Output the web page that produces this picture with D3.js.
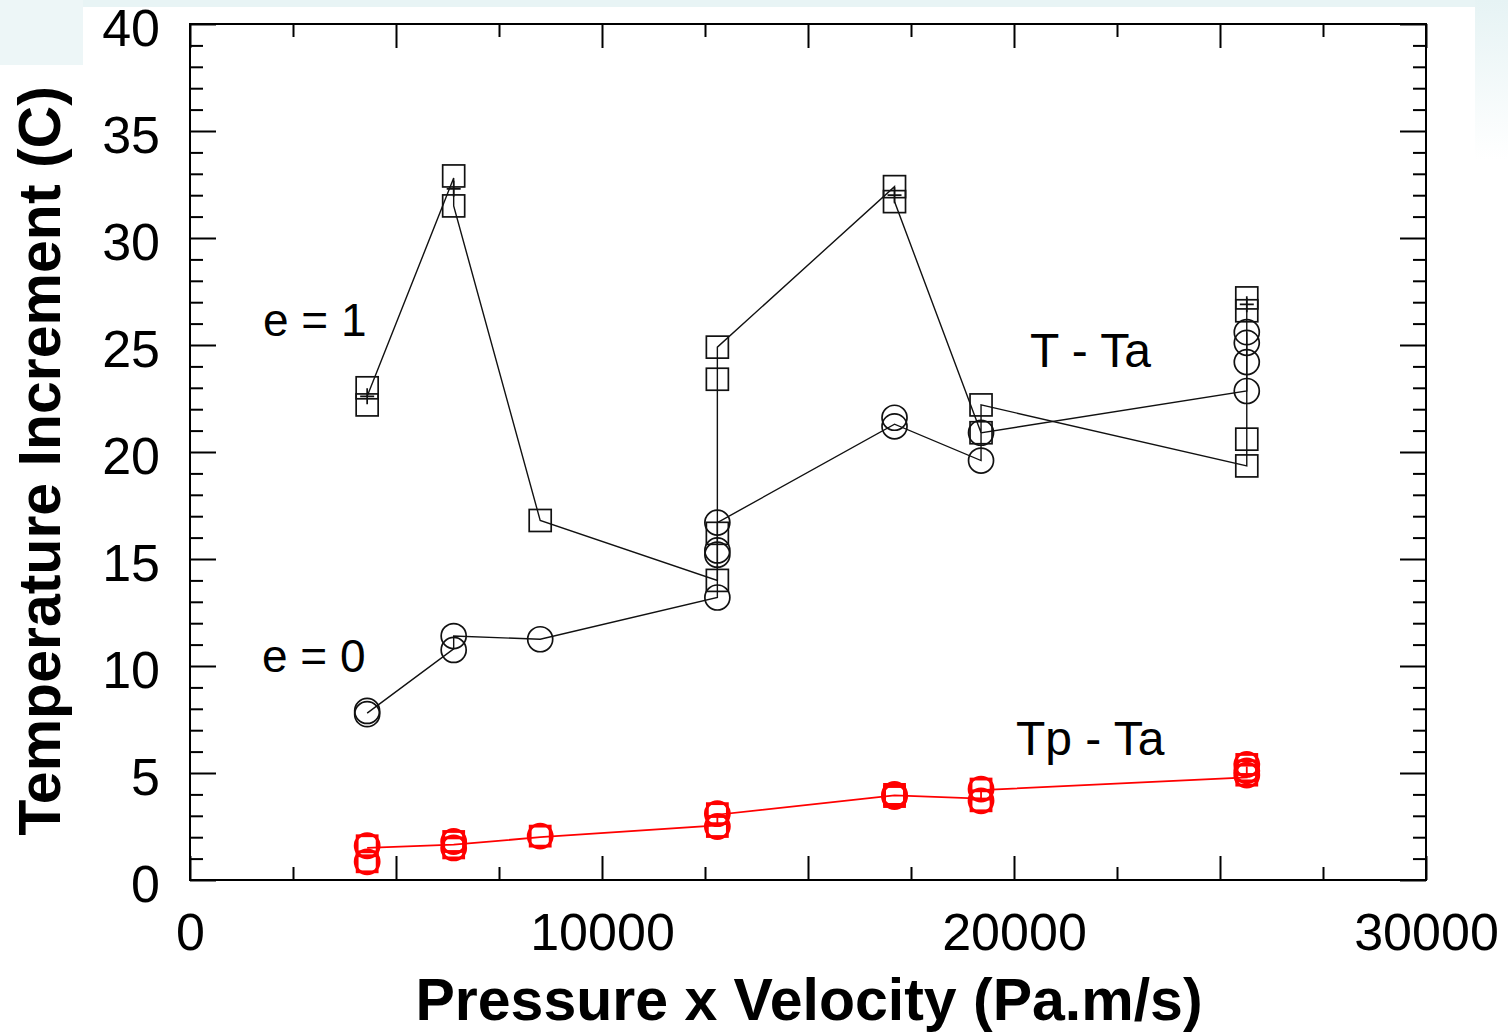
<!DOCTYPE html>
<html><head><meta charset="utf-8">
<script src="https://cdn.jsdelivr.net/npm/d3@7"></script>
<style>html,body{margin:0;padding:0;background:#fff;overflow:hidden}svg{display:block}</style>
</head><body>
<svg id="c" width="1508" height="1032"></svg>
<script>
// ---------- data ----------
const xLabels = [0, 10000, 20000, 30000];
const yLabels = [0, 5, 10, 15, 20, 25, 30, 35, 40];
const xMajorTicks = [0, 5000, 10000, 15000, 20000, 25000, 30000];
const xMinorTicks = [2500, 7500, 12500, 17500, 22500, 27500];
const yMajorTicks = [0, 5, 10, 15, 20, 25, 30, 35, 40];
const yMinorTicks = d3.range(0, 41).filter(v => v % 5 !== 0);

// e = 1 (squares), T - Ta
const e1Squares = [[4300,23.0],[4300,22.2],[6400,32.9],[6400,31.5],[8500,16.8],
  [12800,24.9],[12800,23.4],[12800,16.2],[12800,14.0],[17100,32.4],[17100,31.7],
  [19200,22.2],[19200,20.9],[25650,27.2],[25650,26.6],[25650,20.6],[25650,19.35]];
const e1Line = [[4300,22.6],[6400,32.8],[6400,31.5],[8500,16.8],[12800,14.0],[12800,24.9],
  [17100,32.4],[17100,31.7],[19200,20.9],[19200,22.2],[25650,19.35],[25650,27.2]];
const e1Plus = [[4300,22.6],[6400,32.3],[17100,32.0],[25650,26.9]];

// e = 0 (circles), T - Ta
const e0Circles = [[4300,7.9],[4300,7.75],[6400,11.4],[6400,10.75],[8500,11.25],
  [12800,16.7],[12800,15.4],[12800,15.2],[12800,13.2],[17100,21.6],[17100,21.2],
  [19200,20.9],[19200,19.6],[25650,25.6],[25650,25.1],[25650,24.2],[25650,22.85]];
const e0Line = [[4300,7.8],[6400,10.8],[6400,11.4],[8500,11.25],[12800,13.2],[12800,16.7],
  [17100,21.3],[19200,19.6],[19200,20.9],[25650,22.85],[25650,25.6]];

// Tp - Ta (red, squares + circles)
const tpPoints = [[4300,1.6],[4300,0.85],[6400,1.8],[6400,1.5],[8500,2.05],
  [12800,3.1],[12800,2.5],[17100,4.0],[17100,3.9],[19200,4.25],[19200,3.7],
  [25650,5.4],[25650,5.1],[25650,4.9]];
const tpLine = [[4300,1.5],[6400,1.65],[8500,2.0],[12800,2.55],[12800,3.05],
  [17100,3.95],[19200,3.8],[19200,4.2],[25650,4.8],[25650,5.3]];

const annotations = [
  {text: "e = 1", x: 263, y: 336, size: 46},
  {text: "e = 0", x: 262, y: 672, size: 46},
  {text: "T - Ta", x: 1030, y: 367, size: 48},
  {text: "Tp - Ta", x: 1016, y: 755, size: 48}
];

// ---------- drawing ----------
const svg = d3.select("#c");
const FONT = "'Liberation Sans', Arial, Helvetica, sans-serif";
const L = 190, R = 1426, T = 24, B = 880;
const x = d3.scaleLinear().domain([0, 30000]).range([L, R]);
const y = d3.scaleLinear().domain([0, 40]).range([B, T]);

// background (slide screenshot look)
const defs = svg.append("defs");
const g1 = defs.append("linearGradient").attr("id","gr").attr("x1",0).attr("y1",0).attr("x2",0).attr("y2",1);
g1.append("stop").attr("offset","0%").attr("stop-color","#e6f3f4");
g1.append("stop").attr("offset","100%").attr("stop-color","#ffffff");
svg.append("rect").attr("x",0).attr("y",0).attr("width",1508).attr("height",1032).attr("fill","#fff");
svg.append("rect").attr("x",0).attr("y",0).attr("width",1508).attr("height",7).attr("fill","#e8f4f5");
svg.append("rect").attr("x",0).attr("y",0).attr("width",83).attr("height",65).attr("fill","#edf6f7");
svg.append("rect").attr("x",1475).attr("y",0).attr("width",33).attr("height",160).attr("fill","url(#gr)");

// axes
function tickAxis(axisFn, scale, vals, size, tr) {
  svg.append("g").attr("transform", tr)
    .call(axisFn(scale).tickValues(vals).tickSize(size).tickFormat(""))
    .call(g => { g.select(".domain").remove(); g.selectAll("line").attr("stroke","#000").attr("stroke-width",2); });
}
tickAxis(d3.axisBottom, x, xMajorTicks, -24, `translate(0,${B})`);
tickAxis(d3.axisBottom, x, xMinorTicks, -13, `translate(0,${B})`);
tickAxis(d3.axisTop, x, xMajorTicks, -24, `translate(0,${T})`);
tickAxis(d3.axisTop, x, xMinorTicks, -13, `translate(0,${T})`);
tickAxis(d3.axisLeft, y, yMajorTicks, -26, `translate(${L},0)`);
tickAxis(d3.axisLeft, y, yMinorTicks, -13, `translate(${L},0)`);
tickAxis(d3.axisRight, y, yMajorTicks, -26, `translate(${R},0)`);
tickAxis(d3.axisRight, y, yMinorTicks, -13, `translate(${R},0)`);

svg.append("rect").attr("x",L).attr("y",T).attr("width",R-L).attr("height",B-T)
  .attr("fill","none").attr("stroke","#000").attr("stroke-width",2);

// tick labels
svg.append("g").attr("transform",`translate(0,${B})`)
  .call(d3.axisBottom(x).tickValues(xLabels).tickSize(0).tickPadding(0).tickFormat(d3.format("d")))
  .call(g => { g.select(".domain").remove();
    g.selectAll("text").attr("dy",null).attr("y",70).attr("font-family",FONT).attr("font-size",52).attr("fill","#000"); });
svg.append("g").attr("transform",`translate(${L},0)`)
  .call(d3.axisLeft(y).tickValues(yLabels).tickSize(0).tickPadding(0).tickFormat(d3.format("d")))
  .call(g => { g.select(".domain").remove();
    g.selectAll("text").attr("x",-30).attr("dy","0.42em").attr("font-family",FONT).attr("font-size",52).attr("fill","#000"); });

// axis titles
svg.append("text").attr("x",809).attr("y",1020).attr("text-anchor","middle")
  .attr("font-family",FONT).attr("font-weight","bold").attr("font-size",59).text("Pressure x Velocity (Pa.m/s)");
svg.append("text").attr("transform","translate(60,461) rotate(-90)").attr("text-anchor","middle")
  .attr("font-family",FONT).attr("font-weight","bold").attr("font-size",59).text("Temperature Increment (C)");

// lines
const line = d3.line().x(d => x(d[0])).y(d => y(d[1]));
const plot = svg.append("g");
plot.append("path").datum(e1Line).attr("d",line).attr("fill","none").attr("stroke","#111").attr("stroke-width",1.4);
plot.append("path").datum(e0Line).attr("d",line).attr("fill","none").attr("stroke","#111").attr("stroke-width",1.4);
plot.append("path").datum(tpLine).attr("d",line).attr("fill","none").attr("stroke","#ff0000").attr("stroke-width",1.8);

// markers
const SQ = 22, CR = 12.5;
plot.selectAll(".sq1").data(e1Squares).join("rect")
  .attr("x",d=>x(d[0])-SQ/2).attr("y",d=>y(d[1])-SQ/2).attr("width",SQ).attr("height",SQ)
  .attr("fill","none").attr("stroke","#111").attr("stroke-width",1.7);
plot.selectAll(".c0").data(e0Circles).join("circle")
  .attr("cx",d=>x(d[0])).attr("cy",d=>y(d[1])).attr("r",CR)
  .attr("fill","none").attr("stroke","#111").attr("stroke-width",1.7);
plot.selectAll(".pl").data(e1Plus).join("path")
  .attr("d",d=>`M${x(d[0])-7},${y(d[1])}H${x(d[0])+7}M${x(d[0])},${y(d[1])-8}V${y(d[1])+8}`)
  .attr("stroke","#111").attr("stroke-width",1.7);
plot.selectAll(".tps").data(tpPoints).join("rect")
  .attr("x",d=>x(d[0])-10).attr("y",d=>y(d[1])-10).attr("width",20).attr("height",20)
  .attr("fill","none").attr("stroke","#ff0000").attr("stroke-width",2.8);
plot.selectAll(".tpc").data(tpPoints).join("circle")
  .attr("cx",d=>x(d[0])).attr("cy",d=>y(d[1])).attr("r",12)
  .attr("fill","none").attr("stroke","#ff0000").attr("stroke-width",2.8);

// annotations
svg.selectAll(".ann").data(annotations).join("text")
  .attr("x",d=>d.x).attr("y",d=>d.y).attr("font-family",FONT).attr("font-size",d=>d.size).attr("fill","#000")
  .text(d=>d.text);
</script>
</body></html>
